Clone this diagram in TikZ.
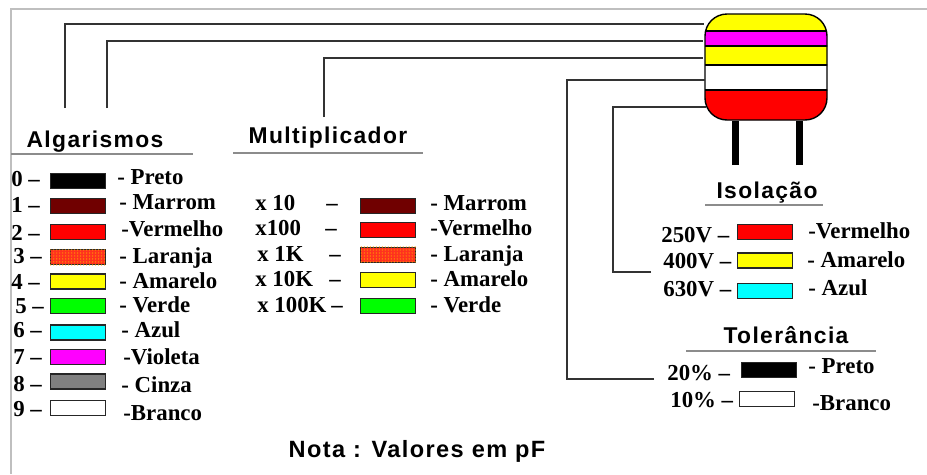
\documentclass[tikz,border=0pt]{standalone}
\usepackage{fontspec}
\setmainfont{Liberation Serif}[BoldFont={Liberation Serif Bold}]
\newfontfamily\headfont[LetterSpace=6]{Liberation Sans Bold}
\usetikzlibrary{patterns.meta}
\definecolor{marrom}{RGB}{112,0,0}
\definecolor{laranja}{RGB}{255,50,30}
\definecolor{cinza}{RGB}{128,128,128}
\definecolor{vermelho}{RGB}{255,0,0}
\definecolor{amarelo}{RGB}{255,255,0}
\definecolor{verde}{RGB}{0,255,0}
\definecolor{azul}{RGB}{0,255,255}
\definecolor{violeta}{RGB}{255,0,255}
\tikzset{
  wire/.style={draw=black!80,line width=.85pt},
  frame/.style={draw=black!25,line width=1pt},
  rule/.style={draw=black!45,line width=.8pt},
  lead/.style={draw=black,line width=.14cm},
  swatch/.style={draw=black!85,line width=.8pt,minimum width=1.1cm,minimum height=.3cm,inner sep=0pt,fill=#1},
  lbl/.style={anchor=base west,inner sep=0pt,font=\fontsize{13}{13}\selectfont\bfseries},
  head/.style={anchor=base,inner sep=0pt,font=\fontsize{13}{13}\headfont}
}
\begin{document}
\begin{tikzpicture}[x=.02cm,y=-.02cm]
\useasboundingbox (0,0) rectangle (927,474);
\coordinate (fa) at (927,9);
\coordinate (fb) at (11,9);
\coordinate (fc) at (11,474);
\draw[frame] (fa) -- (fb) -- (fc);

\begin{scope}
  \clip[rounded corners=12.5pt] (705,14) rectangle (827,120);
  \foreach \ya/\yb/\clr in {10/31/amarelo,31/46/violeta,46/65/amarelo,65/90/white,90/125/vermelho}
    \draw[fill=\clr,line width=.8pt] (700,\ya) rectangle (832,\yb);
\end{scope}
\node (cap)[draw,line width=.8pt,rounded corners=12.5pt,minimum width=2.44cm,minimum height=2.12cm] at (766,67) {};
\coordinate (l1) at (735,165);
\coordinate (l2) at (799,165);
\foreach \n in {l1,l2}
  \draw[lead] (\n) -- (\n |- cap.south);

\node (alg)[head] at (95,147) {Algarismos};
\node (mul)[head] at (328,143) {Multiplicador};
\node (iso)[head] at (767,198) {Isolação};
\node (tol)[head] at (786,343) {Tolerância};
\node (nota)[head,font=\fontsize{13.4}{13.4}\headfont] at (417,457) {Nota : Valores em pF};

\coordinate (ra) at (11,154);
\coordinate (rb) at (193,154);
\coordinate (rc) at (233,153);
\coordinate (rd) at (423,153);
\coordinate (re) at (705,205);
\coordinate (rf) at (823,205);
\coordinate (rg) at (686,351);
\coordinate (rh) at (876,351);
\foreach \from/\to in {ra/rb,rc/rd,re/rf,rg/rh}
  \draw[rule] (\from) -- (\to);

\coordinate (w1) at (65,108);
\coordinate (c1) at (704,24);
\coordinate (w2) at (107,108);
\coordinate (c2) at (703,41);
\coordinate (w3) at (324,117);
\coordinate (c3) at (703,58);
\foreach \from/\to in {w1/c1,w2/c2,w3/c3}
  \draw[wire] (\from) |- (\to);
\coordinate (w4) at (654,379);
\coordinate (c4) at (567,80);
\coordinate (c5) at (705,80);
\coordinate (w5) at (651,272);
\coordinate (c6) at (613,107);
\coordinate (c7) at (706,107);
\draw[wire] (w4) -| (c4) -- (c5);
\draw[wire] (w5) -| (c6) -- (c7);

\foreach \i/\dx/\dy/\sy/\lx/\ly/\clr/\txt in {
  0/11/186/181/117/184/black/- Preto,
  1/11/212/206/119/209/marrom/- Marrom,
  2/11/240/232/121/236/vermelho/-Vermelho,
  3/13/263/257/119/263/laranja/- Laranja,
  4/11/289/281.5/119/288/amarelo/- Amarelo,
  5/15/313/306/119/312/verde/- Verde,
  6/13/337/332.5/121/337/azul/- Azul,
  7/13/364/357/123/364/violeta/-Violeta,
  8/13/391/381.5/121/392/cinza/- Cinza,
  9/13/416/408/123/420/white/-Branco}
{
  \node (ad\i)[lbl] at (\dx,\dy) {\i\ –};
  \node (as\i)[swatch=\clr] at (78,\sy) {};
  \node (al\i)[lbl] at (\lx,\ly) {\txt};
}

\foreach \i/\mx/\my/\dx/\sy/\ly/\clr/\val/\txt in {
  1/255/210/326/206/210/marrom/x 10/- Marrom,
  2/255/235/325/230/235/vermelho/x100/-Vermelho,
  3/257/261/329/255/261/laranja/x 1K/- Laranja,
  4/255/286/329/280/286/amarelo/x 10K/- Amarelo,
  5/257/312/331/306/312/verde/x 100K/- Verde}
{
  \node (mv\i)[lbl] at (\mx,\my) {\val};
  \node (md\i)[lbl] at (\dx,\my) {–};
  \node (ms\i)[swatch=\clr] at (388,\sy) {};
  \node (ml\i)[lbl] at (430,\ly) {\txt};
}

\foreach \i/\vx/\vy/\sy/\lx/\ly/\clr/\val/\txt in {
  1/661/242/232/808/238/vermelho/250V –/-Vermelho,
  2/663/268/260.5/807/267/amarelo/400V –/- Amarelo,
  3/663/296/291/808/295/azul/630V –/- Azul}
{
  \node (iv\i)[lbl] at (\vx,\vy) {\val};
  \node (is\i)[swatch=\clr] at (765,\sy) {};
  \node (il\i)[lbl] at (\lx,\ly) {\txt};
}

\node (tv1)[lbl] at (667,380) {20\% –};
\node (ts1)[swatch=black] at (769,370) {};
\node (tl1)[lbl] at (808,373) {- Preto};
\node (tv2)[lbl] at (670,407) {10\% –};
\node (ts2)[swatch=white] at (767,399) {};
\node (tl2)[lbl] at (812,410) {-Branco};

\foreach \n in {as3,ms3}
  \path[pattern={Dots[radius=.4pt,distance=1.7pt]},pattern color=amarelo!60!red] (\n.south west) rectangle (\n.north east);
\end{tikzpicture}
\end{document}
